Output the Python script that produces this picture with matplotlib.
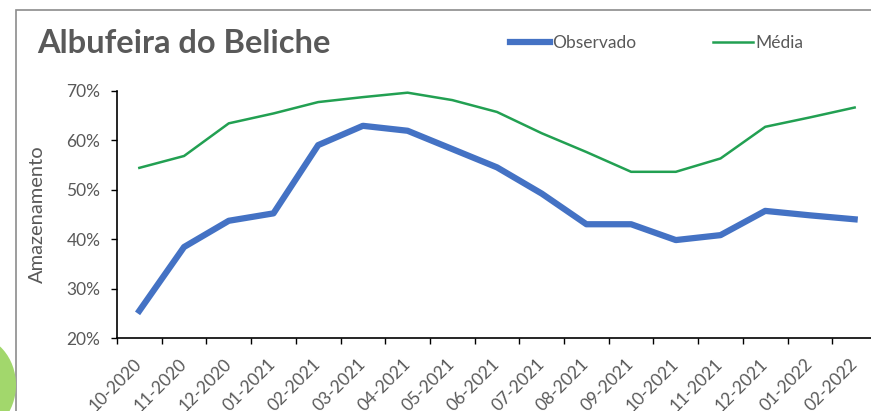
import matplotlib.pyplot as plt
import matplotlib.patches as mpatches
from matplotlib.ticker import FixedLocator, PercentFormatter
import numpy as np

# Data (percent storage)
meses = ['10-2020', '11-2020', '12-2020', '01-2021', '02-2021', '03-2021',
         '04-2021', '05-2021', '06-2021', '07-2021', '08-2021', '09-2021',
         '10-2021', '11-2021', '12-2021', '01-2022', '02-2022']
observado = [25.5, 38.4, 43.7, 45.2, 59.0, 62.9, 61.9, 58.2, 54.5, 49.2,
             43.0, 43.0, 39.8, 40.8, 45.7, 44.8, 44.0]
media = [54.4, 56.8, 63.4, 65.4, 67.7, 68.7, 69.6, 68.1, 65.7, 61.4,
         57.6, 53.6, 53.6, 56.3, 62.7, 64.6, 66.6]

TEXT_GRAY = '#595959'
BLUE = '#4472C4'
GREEN = '#22A052'

plt.rcParams['font.family'] = ['Lato', 'DejaVu Sans']

W, H = 871, 411
fig = plt.figure(figsize=(W / 100, H / 100), dpi=100)
fig.patch.set_facecolor('white')

# outer chart frame (cut off at right and bottom)
frame = mpatches.Rectangle((16 / W, -0.1), 1.2, (H - 10) / H + 0.1,
                           transform=fig.transFigure, fill=False,
                           edgecolor='#8c8c8c', linewidth=1.2, zorder=0)
fig.patches.append(frame)

# green blob at lower-left edge
blob = mpatches.Ellipse((-28 / W, 1 - 385 / H), 88 / W, 100 / H,
                        transform=fig.transFigure, facecolor='#A2D76C',
                        edgecolor='none', zorder=0)
fig.patches.append(blob)

ax = fig.add_axes([117 / W, 73 / H, 760 / W, (338 - 90.7) / H])
x = np.arange(len(meses))
ax.plot(x, observado, color=BLUE, linewidth=4.5, label='Observado')
ax.plot(x, media, color=GREEN, linewidth=1.8, label='Média')

ax.set_xlim(-0.5, len(meses) - 0.5)
ax.set_ylim(20, 70)
ax.yaxis.set_major_locator(FixedLocator([20, 30, 40, 50, 60, 70]))
ax.yaxis.set_major_formatter(PercentFormatter(decimals=0))

ax.set_xticks(x)
ax.set_xticklabels(meses, rotation=45, ha='right', va='center',
                   rotation_mode='anchor')
ax.xaxis.set_minor_locator(FixedLocator(np.arange(-0.5, len(meses), 1.0)))
ax.tick_params(axis='x', which='major', length=0, pad=17,
               labelsize=12.5, labelcolor=TEXT_GRAY)
ax.tick_params(axis='x', which='minor', length=4, width=1, color='black')
ax.tick_params(axis='y', length=4, width=1, color='black', pad=8,
               labelsize=12.5, labelcolor=TEXT_GRAY)

for side in ['top', 'right']:
    ax.spines[side].set_visible(False)
for side in ['left', 'bottom']:
    ax.spines[side].set_color('black')
    ax.spines[side].set_linewidth(1.2)
ax.set_facecolor('none')

ax.set_ylabel('Amazenamento', fontsize=14.5, color=TEXT_GRAY, labelpad=15)

fig.text(37 / W, 1 - 53 / H, 'Albufeira do Beliche', fontsize=23.5,
         fontweight='bold', color=TEXT_GRAY, va='baseline', ha='left')

fig.legend(loc='center left', bbox_to_anchor=(494 / W, 1 - 43 / H), ncol=2,
           frameon=False, fontsize=12.5, handlelength=2.35, handletextpad=0.1,
           columnspacing=4.4, labelcolor=TEXT_GRAY)

fig.savefig('out.png', dpi=100)
